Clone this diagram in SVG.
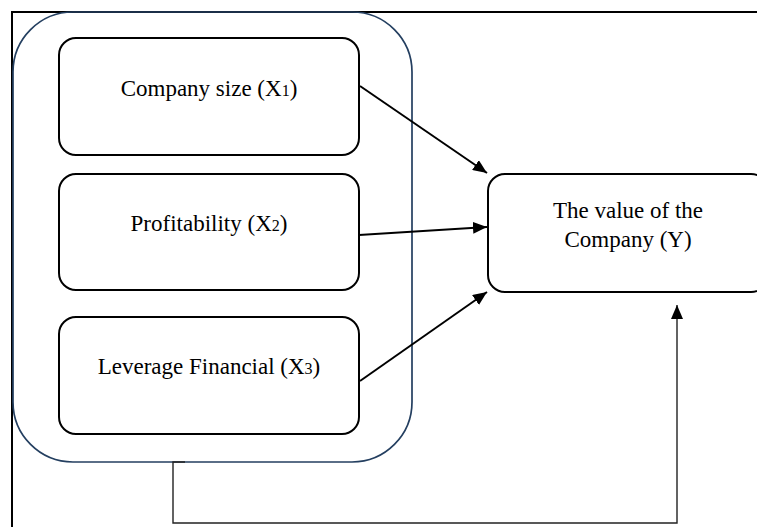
<svg xmlns="http://www.w3.org/2000/svg" width="757" height="527" viewBox="0 0 757 527">
<style>
.frame{fill:none;stroke:#000;stroke-width:2}
.group{fill:none;stroke:#243f60;stroke-width:1.7}
.box{fill:#fff;stroke:#000;stroke-width:2}
.lbl{font-family:"Liberation Serif","Times New Roman",serif;font-size:23px;fill:#000;text-anchor:middle}
.sub{font-size:16px}
.conn{fill:none;stroke:#000;stroke-width:2}
.elbow{fill:none;stroke:#222;stroke-width:1.4}
</style>
<defs>
<marker id="ah" viewBox="0 0 14 12" refX="14" refY="6" markerWidth="14" markerHeight="12" markerUnits="userSpaceOnUse" orient="auto">
<path d="M0,0 L14,6 L0,12 Z" fill="#000"/>
</marker>
</defs>
<path class="frame" d="M12,527 V12 H757"/>
<g id="group-x">
<rect class="group" x="13" y="12" width="399" height="450" rx="60" ry="60"/>
</g>
<g id="node-x1">
<rect class="box" x="59" y="38" width="300" height="117" rx="17"/>
<text class="lbl" x="209" y="96">Company size (X<tspan class="sub">1</tspan>)</text>
</g>
<g id="node-x2">
<rect class="box" x="59" y="174" width="300" height="116" rx="17"/>
<text class="lbl" x="209" y="231">Profitability (X<tspan class="sub">2</tspan>)</text>
</g>
<g id="node-x3">
<rect class="box" x="59" y="317" width="300" height="117" rx="17"/>
<text class="lbl" x="209" y="374">Leverage Financial (X<tspan class="sub">3</tspan>)</text>
</g>
<g id="node-y">
<rect class="box" x="488" y="174" width="280" height="118" rx="17"/>
<text class="lbl" x="628" y="218">The value of the</text>
<text class="lbl" x="628" y="247">Company (Y)</text>
</g>
<g id="connectors">
<line class="conn" x1="360" y1="86" x2="487" y2="173" marker-end="url(#ah)"/>
<line class="conn" x1="359" y1="235" x2="487" y2="227" marker-end="url(#ah)"/>
<line class="conn" x1="360" y1="381" x2="487" y2="292" marker-end="url(#ah)"/>
<path class="elbow" d="M185,462 H173 V523 H677 V305" marker-end="url(#ah)"/>
</g>
</svg>
